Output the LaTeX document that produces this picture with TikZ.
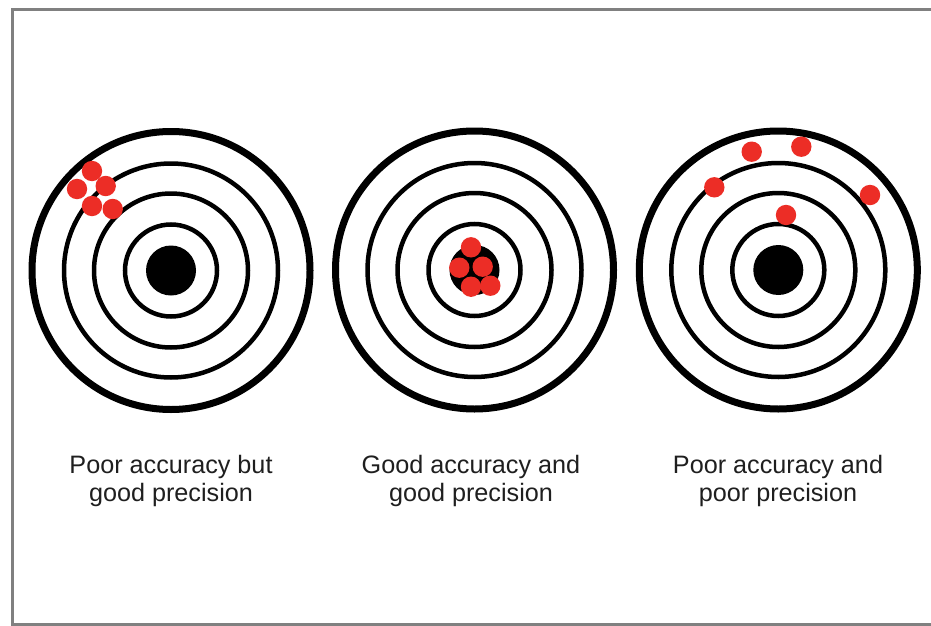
\documentclass[tikz,border=0pt]{standalone}
\usepackage{fontspec}
\setmainfont{Liberation Sans}
\definecolor{framegray}{RGB}{128,128,128}
\definecolor{shotred}{RGB}{236,45,38}
\tikzset{
  ringthick/.style={draw=black, line width=7pt},
  ringthin/.style={draw=black, line width=4.5pt},
  bull/.style={fill=black},
  shot/.style={fill=shotred},
  caption/.style={align=center, font=\fontsize{25.2}{28.5}\selectfont, text=black!88, inner sep=0pt}
}
\newcommand{\target}[2]{%
  \draw[ringthick] (#1,#2) circle (139);
  \draw[ringthin] (#1,#2) circle (107);
  \draw[ringthin] (#1,#2) circle (77);
  \draw[ringthin] (#1,#2) circle (46);
  \fill[bull] (#1,#2) circle (25);
}
\begin{document}
\begin{tikzpicture}[x=1pt,y=-1pt]
\useasboundingbox (0,0) rectangle (931,626);
\clip (0,0) rectangle (931,626);
\fill[white] (0,0) rectangle (931,626);
\draw[framegray, line width=3pt] (12,9.5) rectangle (940,624.5);

% Target 1
\target{171}{270.5}
\foreach \x/\y in {92/171, 77/189, 105.7/186, 92/206, 112.7/209}
  \fill[shot] (\x,\y) circle (10.2);

% Target 2
\target{474.5}{270}
\foreach \x/\y in {471/247.3, 459.3/267.7, 482.7/266.7, 490.3/285.7, 471/286.7}
  \fill[shot] (\x,\y) circle (10.2);

% Target 3
\target{778.3}{270}
\foreach \x/\y in {751.7/151.7, 801.3/146.7, 714.3/187.3, 870/195, 786/215}
  \fill[shot] (\x,\y) circle (10.2);

\node[caption, anchor=base] (c1) at (171,501.8) {Poor accuracy but\\good precision};
\node[caption, anchor=base] (c2) at (471,501.8) {Good accuracy and\\good precision};
\node[caption, anchor=base] (c3) at (778,501.8) {Poor accuracy and\\poor precision};
\end{tikzpicture}
\end{document}
